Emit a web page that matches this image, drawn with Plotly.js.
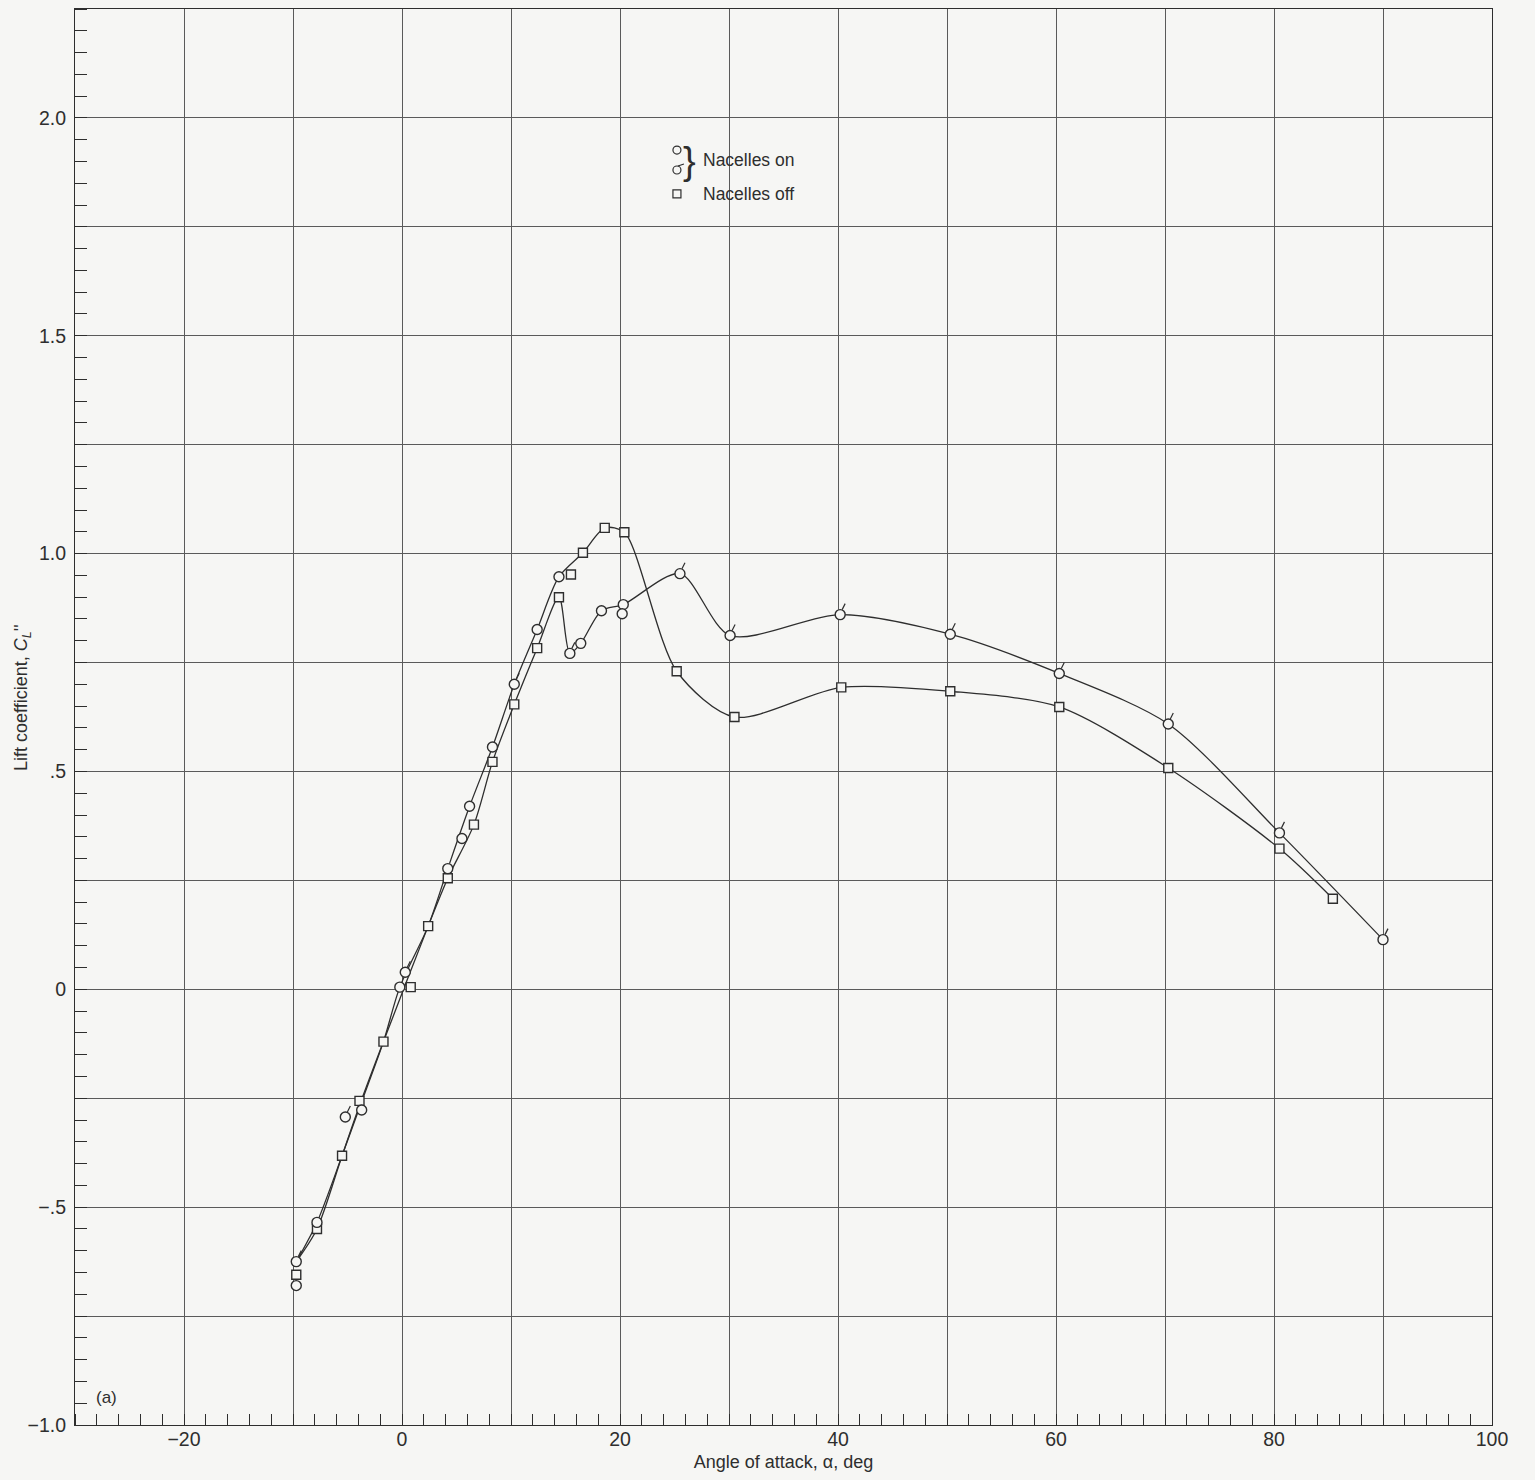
<!DOCTYPE html>
<html>
<head>
<meta charset="utf-8">
<script src="https://cdn.plot.ly/plotly-3.0.1.min.js"></script>
<style>
  html, body { margin: 0; padding: 0; background: #f6f6f4; }
  #chart { width: 1535px; height: 1480px; }
</style>
</head>
<body>
<div id="chart"></div>
<script>
// ---- Data ----
// Nacelles on, plain circles
const alphaOnPlain = [-9.7, -7.8, -3.7, -0.2, 4.2, 5.5, 6.2, 8.3, 12.4, 14.4, 16.4, 18.3, 20.3, 20.2];
const clOnPlain    = [-0.680, -0.535, -0.277, 0.005, 0.277, 0.346, 0.420, 0.556, 0.826, 0.947, 0.794, 0.869, 0.883, 0.862];
// Nacelles on, flagged circles
const alphaOnFlag = [-9.7, -5.2, 0.3, 10.3, 15.4, 25.5, 30.1, 40.2, 50.3, 60.3, 70.3, 80.5, 90.0];
const clOnFlag    = [-0.625, -0.293, 0.039, 0.700, 0.771, 0.954, 0.812, 0.860, 0.815, 0.725, 0.609, 0.359, 0.114];
// Nacelles off, squares
const alphaOff = [-9.7, -7.8, -5.5, -3.9, -1.7, 0.8, 2.4, 4.2, 6.6, 8.3, 10.3, 12.4, 14.4, 15.5, 16.6, 18.6, 20.4, 25.2, 30.5, 40.3, 50.3, 60.3, 70.3, 80.5, 85.4];
const clOff    = [-0.655, -0.550, -0.382, -0.256, -0.120, 0.005, 0.145, 0.255, 0.378, 0.522, 0.654, 0.783, 0.900, 0.952, 1.002, 1.059, 1.049, 0.730, 0.625, 0.693, 0.684, 0.648, 0.508, 0.323, 0.208];

// Faired curves as drawn on the reference
const fairAAlpha = [-9.7, -7.8, -5.5, -3.8, -1.7, -0.2, 2.4, 4.2, 6.2, 8.3, 10.3, 12.4, 14.4, 16.6, 18.6, 20.4, 25.2, 30.5, 40.3, 50.3, 60.3, 70.3, 80.5, 85.4];
const fairACl    = [-0.625, -0.535, -0.382, -0.265, -0.120, 0.005, 0.145, 0.277, 0.420, 0.556, 0.700, 0.826, 0.947, 1.002, 1.059, 1.049, 0.730, 0.625, 0.693, 0.684, 0.648, 0.508, 0.323, 0.208];
const fairBAlpha = [-9.7, -7.8, -5.5, -3.8, -1.7, 2.4, 4.2, 6.6, 8.3, 10.3, 12.4, 14.4, 15.4, 16.4, 18.3, 20.3, 25.5, 30.1, 40.2, 50.3, 60.3, 70.3, 80.5, 90.0];
const fairBCl    = [-0.625, -0.550, -0.382, -0.260, -0.120, 0.145, 0.255, 0.378, 0.522, 0.654, 0.783, 0.900, 0.771, 0.794, 0.869, 0.883, 0.954, 0.812, 0.860, 0.815, 0.725, 0.609, 0.359, 0.114];

// Grid positions and tick labels
const xGridVals  = [-30, -20, -10, 0, 10, 20, 30, 40, 50, 60, 70, 80, 90, 100];
const xLabelVals = [-20, 0, 20, 40, 60, 80, 100];
const xLabelText = ['\u221220', '0', '20', '40', '60', '80', '100'];
const yGridVals  = [-1.0, -0.75, -0.5, -0.25, 0, 0.25, 0.5, 0.75, 1.0, 1.25, 1.5, 1.75, 2.0, 2.25];
const yLabelVals = [-1.0, -0.5, 0, 0.5, 1.0, 1.5, 2.0];
const yLabelText = ['\u22121.0', '\u2212.5', '0', '.5', '1.0', '1.5', '2.0'];

// ---- Styling ----
const BG = '#f6f6f4';
const INK = '#2e2e2e';
const GRID = '#5a5a5a';
const FONT = 'Liberation Sans, DejaVu Sans, sans-serif';
const X_RANGE = [-30, 100];
const Y_RANGE = [-1.0, 2.25];

const traces = [
  { x: fairAAlpha, y: fairACl, xaxis: 'x2', yaxis: 'y2', mode: 'lines', line: { color: INK, width: 1.3, shape: 'spline', smoothing: 0.8 }, hoverinfo: 'skip', showlegend: false },
  { x: fairBAlpha, y: fairBCl, xaxis: 'x2', yaxis: 'y2', mode: 'lines', line: { color: INK, width: 1.3, shape: 'spline', smoothing: 0.8 }, hoverinfo: 'skip', showlegend: false },
  { x: alphaOff, y: clOff, xaxis: 'x2', yaxis: 'y2', mode: 'markers', name: 'Nacelles off',
    marker: { symbol: 'square', size: 9, color: BG, line: { color: INK, width: 1.4 } }, showlegend: false },
  { x: alphaOnPlain, y: clOnPlain, xaxis: 'x2', yaxis: 'y2', mode: 'markers', name: 'Nacelles on',
    marker: { symbol: 'circle', size: 10, color: BG, line: { color: INK, width: 1.4 } }, showlegend: false },
  { x: alphaOnFlag, y: clOnFlag, xaxis: 'x2', yaxis: 'y2', mode: 'markers', name: 'Nacelles on (flagged)',
    marker: { symbol: 'circle', size: 10, color: BG, line: { color: INK, width: 1.4 } }, showlegend: false },
  // invisible carrier for the grid axes
  { x: X_RANGE, y: Y_RANGE, xaxis: 'x', yaxis: 'y', mode: 'markers', marker: { opacity: 0 }, hoverinfo: 'skip', showlegend: false }
];

// flags on flagged circles
const shapes = alphaOnFlag.map((a, i) => ({
  type: 'line', xref: 'x2', yref: 'y2',
  xsizemode: 'pixel', ysizemode: 'pixel',
  xanchor: a, yanchor: clOnFlag[i],
  x0: 2, x1: 5, y0: 5, y1: 11,
  line: { color: INK, width: 1.2 }
}));

// legend symbols (paper coordinates)
const legX = 0.4248;
shapes.push(
  { type: 'circle', xref: 'paper', yref: 'paper', xsizemode: 'pixel', ysizemode: 'pixel',
    xanchor: legX, yanchor: 0.9004, x0: -4, x1: 4, y0: -4, y1: 4, line: { color: INK, width: 1.2 }, fillcolor: BG },
  { type: 'circle', xref: 'paper', yref: 'paper', xsizemode: 'pixel', ysizemode: 'pixel',
    xanchor: legX, yanchor: 0.8863, x0: -4, x1: 4, y0: -4, y1: 4, line: { color: INK, width: 1.2 }, fillcolor: BG },
  { type: 'line', xref: 'paper', yref: 'paper', xsizemode: 'pixel', ysizemode: 'pixel',
    xanchor: legX, yanchor: 0.8863, x0: 1, x1: 7, y0: 4, y1: 6, line: { color: INK, width: 1.2 } },
  { type: 'rect', xref: 'paper', yref: 'paper', xsizemode: 'pixel', ysizemode: 'pixel',
    xanchor: legX, yanchor: 0.8694, x0: -4, x1: 4, y0: -4, y1: 4, line: { color: INK, width: 1.2 }, fillcolor: BG }
);

const layout = {
  width: 1535, height: 1480,
  paper_bgcolor: BG, plot_bgcolor: BG,
  margin: { l: 75, r: 43, t: 9, b: 55 },
  font: { family: FONT, color: INK, size: 18 },
  showlegend: false,
  // grid-carrying axes (no labels)
  xaxis: {
    range: X_RANGE, tickmode: 'array', tickvals: xGridVals, showticklabels: false,
    showgrid: true, gridcolor: GRID, gridwidth: 1, zeroline: false,
    showline: true, linecolor: INK, linewidth: 1.3, mirror: true, ticks: '',
    minor: { dtick: 2, tick0: 0, ticks: 'inside', ticklen: 11, tickcolor: INK, tickwidth: 1, showgrid: false }
  },
  yaxis: {
    range: Y_RANGE, tickmode: 'array', tickvals: yGridVals, showticklabels: false,
    showgrid: true, gridcolor: GRID, gridwidth: 1, zeroline: false,
    showline: true, linecolor: INK, linewidth: 1.3, mirror: true, ticks: '',
    minor: { dtick: 0.05, tick0: 0, ticks: 'inside', ticklen: 12, tickcolor: INK, tickwidth: 1, showgrid: false }
  },
  // labelled axes (overlaid, same range)
  xaxis2: {
    overlaying: 'x', side: 'bottom', range: X_RANGE, tickmode: 'array', tickvals: xLabelVals, ticktext: xLabelText,
    showgrid: false, zeroline: false, showline: false, ticks: '',
    tickfont: { size: 19.5, family: FONT, color: INK },
    title: { text: 'Angle of attack, \u03b1, deg', font: { size: 18, family: FONT, color: INK }, standoff: 6 }
  },
  yaxis2: {
    overlaying: 'y', side: 'left', range: Y_RANGE, tickmode: 'array', tickvals: yLabelVals, ticktext: yLabelText,
    showgrid: false, zeroline: false, showline: false, ticks: '', ticklabelstandoff: 8,
    tickfont: { size: 19.5, family: FONT, color: INK }
  },
  shapes: shapes,
  annotations: [
    { xref: 'paper', yref: 'paper', x: -0.0374, y: 0.5134, text: "Lift coefficient, <i>C<sub>L</sub></i>''", textangle: -90,
      showarrow: false, font: { size: 18, family: FONT, color: INK }, xanchor: 'center', yanchor: 'middle' },
    { xref: 'paper', yref: 'paper', x: 0.4335, y: 0.893, text: '}', showarrow: false,
      font: { size: 38, family: 'Liberation Sans, sans-serif', color: INK }, xanchor: 'center', yanchor: 'middle' },
    { xref: 'paper', yref: 'paper', x: 0.4418, y: 0.8937, text: 'Nacelles on', showarrow: false,
      font: { size: 17.5, family: FONT, color: INK }, xanchor: 'left', yanchor: 'middle' },
    { xref: 'paper', yref: 'paper', x: 0.4418, y: 0.8694, text: 'Nacelles off', showarrow: false,
      font: { size: 17.5, family: FONT, color: INK }, xanchor: 'left', yanchor: 'middle' },
    { xref: 'paper', yref: 'paper', x: 0.0135, y: 0.0191, text: '(a)', showarrow: false,
      font: { size: 17, family: FONT, color: INK }, xanchor: 'left', yanchor: 'middle' }
  ]
};

Plotly.newPlot('chart', traces, layout, { displayModeBar: false, staticPlot: true });
</script>
</body>
</html>
